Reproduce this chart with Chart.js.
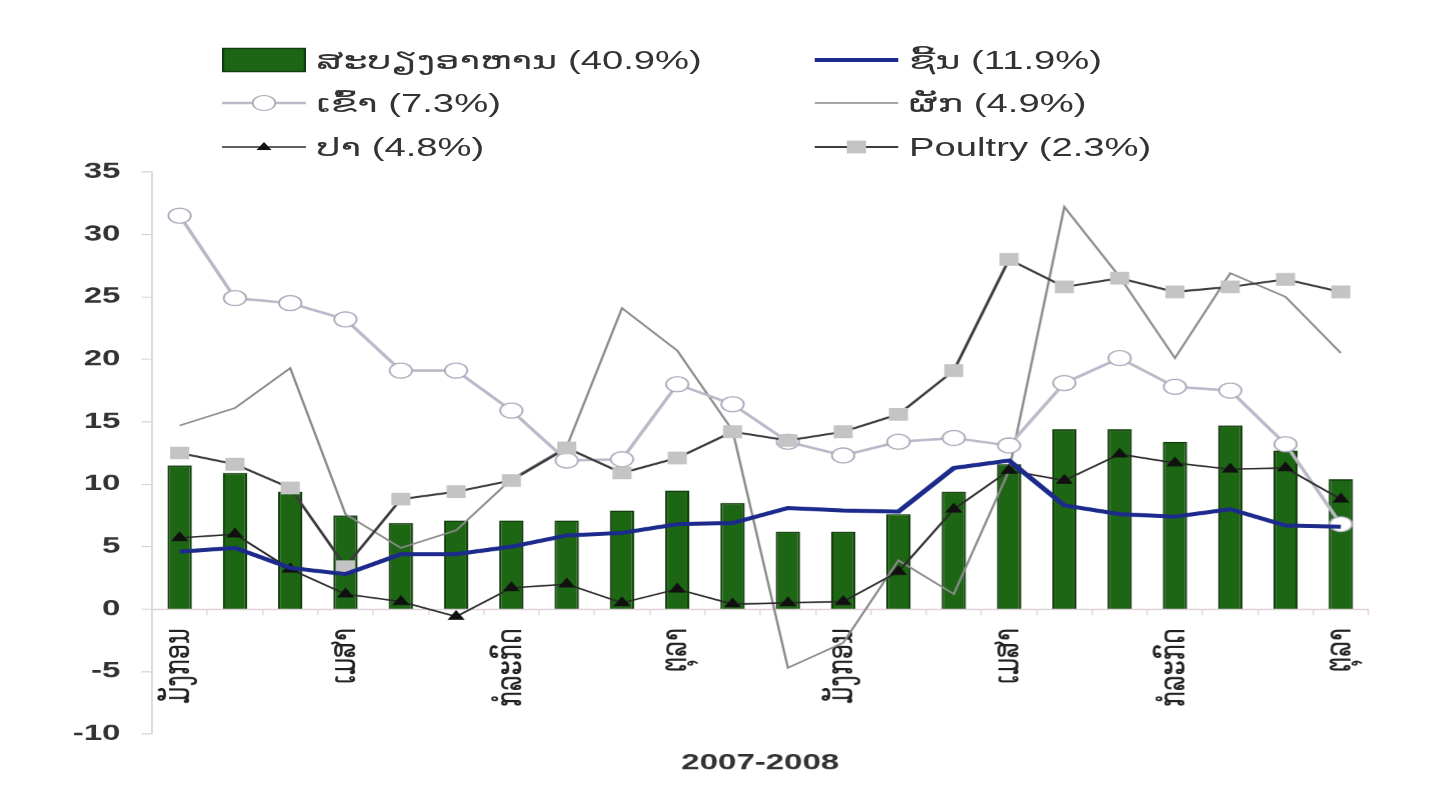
<!DOCTYPE html>
<html lang="lo">
<head>
<meta charset="UTF-8">
<title>ລາຄາ 2007-2008</title>
<script src="https://cdn.jsdelivr.net/npm/chart.js"></script>
<style>
    html, body { margin: 0; padding: 0; background: #fff; overflow: hidden; }
    /* the source picture is stretched sideways (~1.5x), so the chart is drawn narrow and widened */
    #wrap { position: absolute; left: 0; top: 0; width: 968.667px; height: 800px; transform: scaleX(1.5); transform-origin: 0 0; }
    #box { position: absolute; left: 0; top: 0; width: 100%; height: 100%; }
    .item { position: absolute; height: 30px; display: flex; align-items: center; font-family: 'Liberation Sans', Arial, 'DejaVu Sans', sans-serif; font-size: 25.5px; color: #333; white-space: nowrap; }
    .item svg { margin-right: 7px; flex: none; }
</style>
</head>
<body>
<div id="wrap">
    <div id="box"><canvas id="chart"></canvas></div>
    <div id="legend"></div>
</div>
<script>
    // ມັງກອນ 2007 - ຕຸລາ 2008
    const months = ['ມັງກອນ', 'ກຸມພາ', 'ມີນາ', 'ເມສາ', 'ພຶດສະພາ', 'ມິຖຸນາ', 'ກໍລະກົດ', 'ສິງຫາ', 'ກັນຍາ', 'ຕຸລາ', 'ພະຈິກ', 'ທັນວາ',
                    'ມັງກອນ', 'ກຸມພາ', 'ມີນາ', 'ເມສາ', 'ພຶດສະພາ', 'ມິຖຸນາ', 'ກໍລະກົດ', 'ສິງຫາ', 'ກັນຍາ', 'ຕຸລາ'];
    const names = ['ສະບຽງອາຫານ (40.9%)', 'ຊີ້ນ (11.9%)', 'ເຂົ້າ (7.3%)', 'ຜັກ (4.9%)', 'ປາ (4.8%)', 'Poultry (2.3%)'];

    const food    = [11.5, 10.9, 9.4, 7.5, 6.9, 7.1, 7.1, 7.1, 7.9, 9.5, 8.5, 6.2, 6.2, 7.6, 9.4, 11.6, 14.4, 14.4, 13.4, 14.7, 12.7, 10.4];
    const meat    = [4.6, 4.9, 3.3, 2.8, 4.4, 4.4, 5.0, 5.9, 6.1, 6.8, 6.9, 8.1, 7.9, 7.8, 11.3, 11.9, 8.3, 7.6, 7.4, 8.0, 6.7, 6.6];
    const rice    = [31.5, 24.9, 24.5, 23.2, 19.1, 19.1, 15.9, 11.9, 12.0, 18.0, 16.4, 13.4, 12.3, 13.4, 13.7, 13.1, 18.1, 20.1, 17.8, 17.5, 13.2, 6.8];
    const veg     = [14.7, 16.1, 19.3, 7.6, 4.9, 6.3, 10.4, 13.0, 24.1, 20.7, 14.3, -4.7, -2.7, 3.9, 1.2, 11.1, 32.2, 26.6, 20.1, 26.9, 25.0, 20.5];
    const fish    = [5.7, 6.0, 3.2, 1.2, 0.6, -0.6, 1.7, 2.0, 0.5, 1.6, 0.4, 0.5, 0.6, 3.0, 8.0, 11.1, 10.3, 12.4, 11.7, 11.2, 11.3, 8.8];
    const poultry = [12.5, 11.6, 9.7, 3.4, 8.8, 9.4, 10.3, 12.9, 10.9, 12.1, 14.2, 13.5, 14.2, 15.6, 19.1, 28.0, 25.8, 26.5, 25.4, 25.8, 26.4, 25.4];

    const FONT = "'Liberation Sans', Arial, 'DejaVu Sans', sans-serif";
    const GREEN = '#1d6614', NAVY = '#1c2a8c';

    // legend drawn in html (two columns like the original)
    const swatches = [
        '<rect x="0.75" y="3.5" width="54.5" height="23" fill="' + GREEN + '" stroke="#123d0c" stroke-width="1.5"/>',
        '<line x1="0" y1="15" x2="56" y2="15" stroke="' + NAVY + '" stroke-width="4"/>',
        '<line x1="0" y1="15" x2="56" y2="15" stroke="#b9b9c9" stroke-width="2.5"/><circle cx="28" cy="15" r="7.5" fill="#fff" stroke="#aaaabb" stroke-width="1.2"/>',
        '<line x1="0" y1="15" x2="56" y2="15" stroke="#8a8a8a" stroke-width="1.5"/>',
        '<line x1="0" y1="15" x2="56" y2="15" stroke="#2a2a2a" stroke-width="1.5"/><polygon points="28,10 33,18 23,18" fill="#111"/>',
        '<line x1="0" y1="15" x2="56" y2="15" stroke="#3c3c3c" stroke-width="2"/><rect x="21.6" y="8.6" width="12.8" height="12.8" fill="#c4c4c4"/>'
    ];
    const cols = [148, 543], rows = [45, 88, 132];
    let html = '';
    names.forEach((n, i) => {
        html += '<div class="item" style="left:' + cols[i % 2] + 'px;top:' + rows[Math.floor(i / 2)] + 'px">' +
                '<svg width="56" height="30">' + swatches[i] + '</svg><span>' + n + '</span></div>';
    });
    document.getElementById('legend').innerHTML = html;

    new Chart(document.getElementById('chart'), {
        type: 'bar',
        data: {
            labels: months,
            datasets: [
                { type: 'bar', label: names[0], data: food, backgroundColor: GREEN, borderColor: '#123d0c', borderWidth: 1.5,
                  categoryPercentage: 1, barPercentage: 0.44, order: 10 },
                { type: 'line', label: names[1], data: meat, borderColor: NAVY, borderWidth: 4, pointRadius: 0, tension: 0, order: 1 },
                { type: 'line', label: names[2], data: rice, borderColor: '#b9b9c9', borderWidth: 2.5, pointRadius: 7.5,
                  pointBackgroundColor: '#fff', pointBorderColor: '#aaaabb', pointBorderWidth: 1.2, tension: 0, order: 4 },
                { type: 'line', label: names[3], data: veg, borderColor: '#8a8a8a', borderWidth: 1.6, pointRadius: 0, tension: 0, order: 6 },
                { type: 'line', label: names[4], data: fish, borderColor: '#2a2a2a', borderWidth: 1.6, pointStyle: 'triangle', pointRadius: 5,
                  pointBackgroundColor: '#111', pointBorderColor: '#111', tension: 0, order: 2 },
                { type: 'line', label: names[5], data: poultry, borderColor: '#3c3c3c', borderWidth: 2, pointStyle: 'rect', pointRadius: 9,
                  pointBackgroundColor: '#c4c4c4', pointBorderColor: '#c4c4c4', pointBorderWidth: 0, tension: 0, order: 3 }
            ]
        },
        options: {
            responsive: true,
            maintainAspectRatio: false,
            animation: false,
            devicePixelRatio: 1.5,
            layout: { padding: { top: 172, bottom: 66, left: 0, right: 56.7 } },
            plugins: { legend: { display: false }, tooltip: { enabled: false } },
            scales: {
                x: {
                    type: 'category',
                    position: { y: 0 },
                    offset: true,
                    grid: { drawOnChartArea: false, drawTicks: true, tickLength: 5, color: '#e2d4dc' },
                    border: { color: '#e0d0d8', width: 1.5 },
                    ticks: {
                        autoSkip: false, maxRotation: 90, minRotation: 90, padding: 14,
                        color: '#222', font: { family: "'DejaVu Sans', sans-serif", size: 24 },
                        callback: function (v, i) { return i % 3 === 0 ? this.getLabelForValue(v) : ''; }
                    },
                    title: { display: true, text: '2007-2008', color: '#333', font: { family: FONT, size: 22, weight: 'bold' }, padding: { top: 29, bottom: 0 } }
                },
                y: {
                    min: -10, max: 35,
                    grid: { drawOnChartArea: false, drawTicks: true, tickLength: 7, color: '#cfcfcf' },
                    border: { color: '#d4dcd4', width: 1.2 },
                    ticks: { stepSize: 5, padding: 14, color: '#333', font: { family: FONT, size: 22, weight: 'bold' } },
                    afterFit: s => { s.width = 101.3; }
                }
            }
        }
    });
</script>
</body>
</html>
